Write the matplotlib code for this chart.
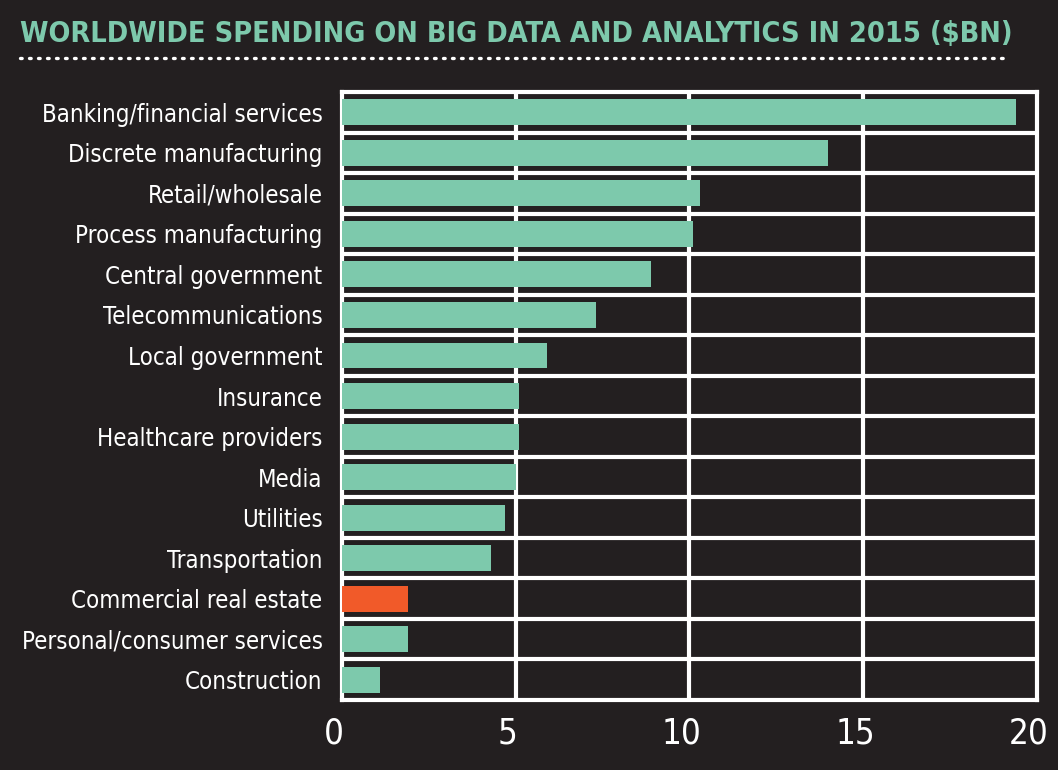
import matplotlib
matplotlib.use("Agg")
import matplotlib.pyplot as plt
import matplotlib.transforms as mtransforms

categories = [
    "Banking/financial services", "Discrete manufacturing", "Retail/wholesale",
    "Process manufacturing", "Central government", "Telecommunications",
    "Local government", "Insurance", "Healthcare providers", "Media",
    "Utilities", "Transportation", "Commercial real estate",
    "Personal/consumer services", "Construction",
]
spending = [19.4, 14.0, 10.3, 10.1, 8.9, 7.3, 5.9, 5.1, 5.1, 5.0, 4.7, 4.3, 1.9, 1.9, 1.1]
highlight = "Commercial real estate"
x_ticks = [0, 5, 10, 15, 20]

BG = "#231f20"
TEAL = "#7dc9ac"
ORANGE = "#f15a29"

plt.rcParams["font.family"] = ["DejaVu Sans"]
plt.rcParams["font.stretch"] = "condensed"

fig = plt.figure(figsize=(10.58, 7.70), dpi=100, facecolor=BG)
ax = fig.add_axes([0.3233, 0.0909, 0.980 - 0.3233, 0.8805 - 0.0909])
ax.set_facecolor(BG)

ypos = list(range(len(categories)))
colors = [ORANGE if c == highlight else TEAL for c in categories]
ax.barh(ypos, spending, height=0.64, color=colors, zorder=3)

ax.set_xlim(0, 20)
ax.set_ylim(len(categories) - 0.5, -0.5)

# white grid: lines between rows and at every 5bn
for k in range(len(categories) - 1):
    ax.axhline(k + 0.5, color="white", lw=3, zorder=2)
for v in x_ticks[1:-1]:
    ax.axvline(v, color="white", lw=3, zorder=2)
for s in ax.spines.values():
    s.set_color("white")
    s.set_linewidth(3)

ax.set_yticks(ypos)
ax.set_yticklabels(categories, fontsize=20, color="white")
ax.set_xticks(x_ticks)
ax.set_xticklabels([str(t) for t in x_ticks], fontsize=25, color="white")
ax.tick_params(axis="both", length=0)
ax.tick_params(axis="y", pad=14)
ax.tick_params(axis="x", pad=12)
shift = mtransforms.ScaledTranslation(-8 / 100, 0, fig.dpi_scale_trans)
for lab in ax.get_xticklabels():
    lab.set_transform(lab.get_transform() + shift)

# title, shrunk to fit the width
title = fig.text(20 / 1058, 1 - 42 / 770, "WORLDWIDE SPENDING ON BIG DATA AND ANALYTICS IN 2015 ($BN)",
                 color=TEAL, fontsize=30, fontweight="bold", ha="left", va="baseline")
fig.canvas.draw()
title.set_fontsize(30 * 990 / title.get_window_extent().width)

# labels: keep the widest one inside the left margin
widest = max(l.get_window_extent().width for l in ax.get_yticklabels())
if widest > 300:
    for l in ax.get_yticklabels():
        l.set_fontsize(20 * 300 / widest)

# dotted rule under the title
fig.add_artist(plt.Line2D([20 / 1058, 1010 / 1058], [1 - 58 / 770] * 2,
                          color="white", lw=2.4, linestyle=(0, (0.5, 2.2)),
                          dash_capstyle="round"))

fig.savefig("out.png", dpi=100, facecolor=BG)
